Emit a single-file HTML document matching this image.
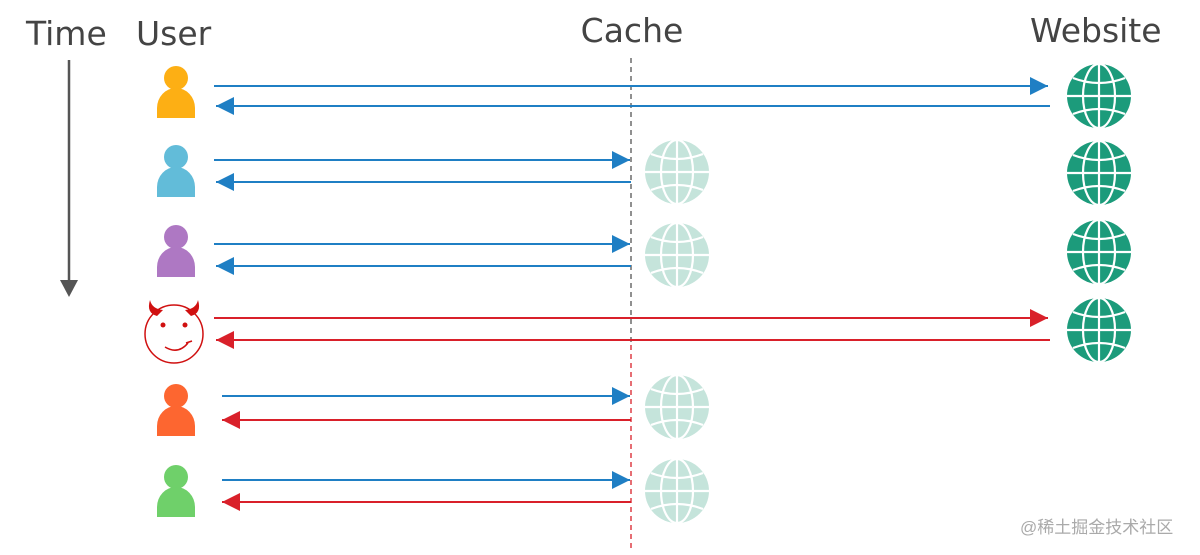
<!DOCTYPE html>
<html><head><meta charset="utf-8"><style>
html,body{margin:0;padding:0;background:#fff;}
svg{display:block;}
text{font-family:"DejaVu Sans","Liberation Sans",sans-serif;fill:#444;}
</style></head><body>
<svg width="1200" height="555" viewBox="0 0 1200 555" xmlns="http://www.w3.org/2000/svg">
<defs>
<marker id="hb" viewBox="0 0 10 10" refX="10" refY="5" markerWidth="18" markerHeight="18" markerUnits="userSpaceOnUse" orient="auto-start-reverse"><path d="M0,0L10,5L0,10Z" fill="#1f7fc4"/></marker>
<marker id="hr" viewBox="0 0 10 10" refX="10" refY="5" markerWidth="18" markerHeight="18" markerUnits="userSpaceOnUse" orient="auto-start-reverse"><path d="M0,0L10,5L0,10Z" fill="#d9202a"/></marker>
<g id="globe">
<circle r="32"/>
<g fill="none" stroke="#fff" stroke-width="2.2">
<line x1="0" y1="-32" x2="0" y2="32"/>
<line x1="-32" y1="0" x2="32" y2="0"/>
<ellipse rx="16" ry="32"/>
<path d="M-26,-18 Q0,-8 26,-18"/>
<path d="M-26,18 Q0,8 26,18"/>
</g>
</g>
</defs>
<text x="26" y="45" font-size="33">Time</text>
<text x="136" y="45" font-size="33">User</text>
<text x="632" y="42" font-size="33" text-anchor="middle">Cache</text>
<text x="1030" y="42" font-size="33">Website</text>
<line x1="69" y1="60" x2="69" y2="282" stroke="#555" stroke-width="2.5"/>
<path d="M60,280 L78,280 L69,297Z" fill="#555"/>
<line x1="631" y1="58" x2="631" y2="345" stroke="#555" stroke-width="1.3" stroke-dasharray="5,4"/>
<line x1="631" y1="345" x2="631" y2="550" stroke="#d9202a" stroke-width="1.3" stroke-dasharray="5,4"/>
<!-- persons -->
<g fill="#fdaf14"><circle cx="176" cy="78" r="12"/><path d="M157,118V108a19,20 0 0 1 38,0V118Z"/></g>
<g fill="#62bcd9"><circle cx="176" cy="157" r="12"/><path d="M157,197V187a19,20 0 0 1 38,0V197Z"/></g>
<g fill="#ae78c3"><circle cx="176" cy="237" r="12"/><path d="M157,277V267a19,20 0 0 1 38,0V277Z"/></g>
<g fill="#fd6630"><circle cx="176" cy="396" r="12"/><path d="M157,436V426a19,20 0 0 1 38,0V436Z"/></g>
<g fill="#6fd06a"><circle cx="176" cy="477" r="12"/><path d="M157,517V507a19,20 0 0 1 38,0V517Z"/></g>
<!-- devil -->
<g stroke="#d01010" fill="none" stroke-width="1.5">
<circle cx="174" cy="334" r="29"/>
<path d="M165,347 Q178,355 188,343 M186,343 L192,341"/>
</g>
<g fill="#d01010">
<circle cx="163" cy="325" r="2.5"/><circle cx="185" cy="325" r="2.5"/>
<path d="M150,300 Q146,313 157,316 L163,310 Q152,309 150,300Z"/>
<path d="M198,300 Q202,313 191,316 L185,310 Q196,309 198,300Z"/>
</g>
<!-- globes -->
<g fill="#1c9b7b">
<use href="#globe" x="1099" y="96"/><use href="#globe" x="1099" y="173"/>
<use href="#globe" x="1099" y="252"/><use href="#globe" x="1099" y="330"/>
</g>
<g fill="#c5e4db">
<use href="#globe" x="677" y="172"/><use href="#globe" x="677" y="255"/>
<use href="#globe" x="677" y="407"/><use href="#globe" x="677" y="491"/>
</g>
<!-- arrows -->
<g stroke-width="2" fill="none">
<line x1="214" y1="86" x2="1048" y2="86" stroke="#1f7fc4" marker-end="url(#hb)"/>
<line x1="1050" y1="106" x2="216" y2="106" stroke="#1f7fc4" marker-end="url(#hb)"/>
<line x1="214" y1="160" x2="630" y2="160" stroke="#1f7fc4" marker-end="url(#hb)"/>
<line x1="631" y1="182" x2="216" y2="182" stroke="#1f7fc4" marker-end="url(#hb)"/>
<line x1="214" y1="244" x2="630" y2="244" stroke="#1f7fc4" marker-end="url(#hb)"/>
<line x1="631" y1="266" x2="216" y2="266" stroke="#1f7fc4" marker-end="url(#hb)"/>
<line x1="214" y1="318" x2="1048" y2="318" stroke="#d9202a" marker-end="url(#hr)"/>
<line x1="1050" y1="340" x2="216" y2="340" stroke="#d9202a" marker-end="url(#hr)"/>
<line x1="222" y1="396" x2="630" y2="396" stroke="#1f7fc4" marker-end="url(#hb)"/>
<line x1="631" y1="420" x2="222" y2="420" stroke="#d9202a" marker-end="url(#hr)"/>
<line x1="222" y1="480" x2="630" y2="480" stroke="#1f7fc4" marker-end="url(#hb)"/>
<line x1="631" y1="502" x2="222" y2="502" stroke="#d9202a" marker-end="url(#hr)"/>
</g>
<text x="1020" y="533" font-size="17" style="font-family:'Liberation Sans','Noto Sans CJK SC',sans-serif;fill:#aaa">@稀土掘金技术社区</text>
</svg>
</body></html>
